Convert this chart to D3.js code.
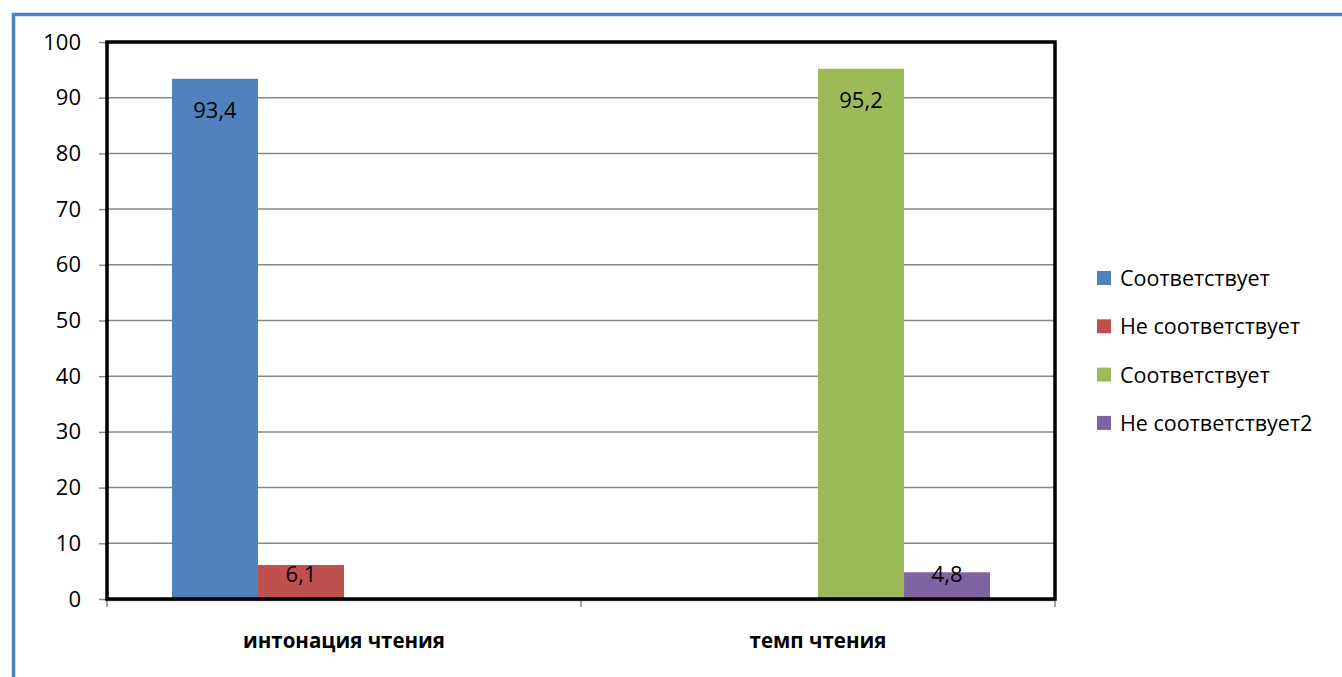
<!DOCTYPE html>
<html><head><meta charset="utf-8">
<script src="https://cdn.jsdelivr.net/npm/d3@7"></script>
<style>body{margin:0;background:#fff}svg{display:block}</style>
</head><body><svg id="c" width="1342" height="677"></svg>
<script>
const categories = ["интонация чтения", "темп чтения"];
const seriesNames = ["Соответствует", "Не соответствует", "Соответствует", "Не соответствует2"];
const seriesColors = ["#4F81BD", "#C0504D", "#9BBB59", "#8064A2"];
const values = [
  [93.4, 6.1, null, null],
  [null, null, 95.2, 4.8]
];
const yTicks = [0, 10, 20, 30, 40, 50, 60, 70, 80, 90, 100];

const svg = d3.select("#c");
const font = "'Open Sans', sans-serif";
// outer frame
svg.append("rect").attr("x", 13.5).attr("y", 14.5).attr("width", 1400).attr("height", 700)
  .attr("fill", "none").attr("stroke", "#4F81BD").attr("stroke-width", 3.5);

const L = 107, R = 1055, T = 42, B = 599;
const y = d3.scaleLinear().domain([0, 100]).range([B, T]);
const x0 = d3.scaleBand().domain(categories).range([L, R]).paddingInner(0.274).paddingOuter(0.137);
const x1 = d3.scaleBand().domain(d3.range(4)).range([0, x0.bandwidth()]);

// gridlines
svg.append("g").selectAll("line").data(yTicks.slice(1)).join("line")
  .attr("x1", L).attr("x2", R).attr("y1", d => y(d)).attr("y2", d => y(d))
  .attr("stroke", "#888").attr("stroke-width", 1.5);

// y axis
const ya = svg.append("g").attr("transform", `translate(${L},0)`)
  .call(d3.axisLeft(y).tickValues(yTicks).tickSize(8).tickPadding(18));
ya.select(".domain").remove();
ya.selectAll("line").attr("stroke", "#888").attr("stroke-width", 1.5);
ya.selectAll("text").attr("font-family", font).attr("font-size", 22).attr("fill", "#000");

// x ticks
const xt = [L, (L + R) / 2, R];
svg.append("g").selectAll("line").data(xt).join("line")
  .attr("x1", d => d).attr("x2", d => d).attr("y1", B).attr("y2", B + 8)
  .attr("stroke", "#888").attr("stroke-width", 1.5);

// bars
const g = svg.append("g");
categories.forEach((c, ci) => {
  values[ci].forEach((v, si) => {
    if (v == null) return;
    const bx = x0(c) + x1(si);
    g.append("rect").attr("x", bx).attr("y", y(v)).attr("width", x1.bandwidth()).attr("height", B - y(v))
      .attr("fill", seriesColors[si]);
    const top = y(v);
    const base = (B - top) > 80 ? top + 39 : Math.min(top + 18, B - 17);
    g.append("text").attr("x", bx + x1.bandwidth() / 2).attr("y", base)
      .attr("text-anchor", "middle").attr("font-family", font).attr("font-size", 22)
      .text(String(v).replace(".", ","));
  });
});

// plot frame
svg.append("line").attr("x1", L - 1).attr("x2", R + 1).attr("y1", B + 1.5).attr("y2", B + 1.5)
  .attr("stroke", "#888").attr("stroke-width", 1.5);
svg.append("rect").attr("x", L).attr("y", T).attr("width", R - L).attr("height", B - T)
  .attr("fill", "none").attr("stroke", "#000").attr("stroke-width", 3.5);

// category labels
svg.append("g").selectAll("text").data(categories).join("text")
  .attr("x", d => x0(d) + x0.bandwidth() / 2).attr("y", 648)
  .attr("text-anchor", "middle").attr("font-family", font).attr("font-weight", "bold")
  .attr("font-size", 20.5).text(d => d);

// legend
const lg = svg.append("g").selectAll("g").data(seriesNames).join("g")
  .attr("transform", (d, i) => `translate(1097,${271 + i * 48.3})`);
lg.append("rect").attr("width", 14).attr("height", 14).attr("fill", (d, i) => seriesColors[i]);
lg.append("text").attr("x", 23).attr("y", 15).attr("font-family", font).attr("font-size", 21.5).text(d => d);
</script></body></html>
